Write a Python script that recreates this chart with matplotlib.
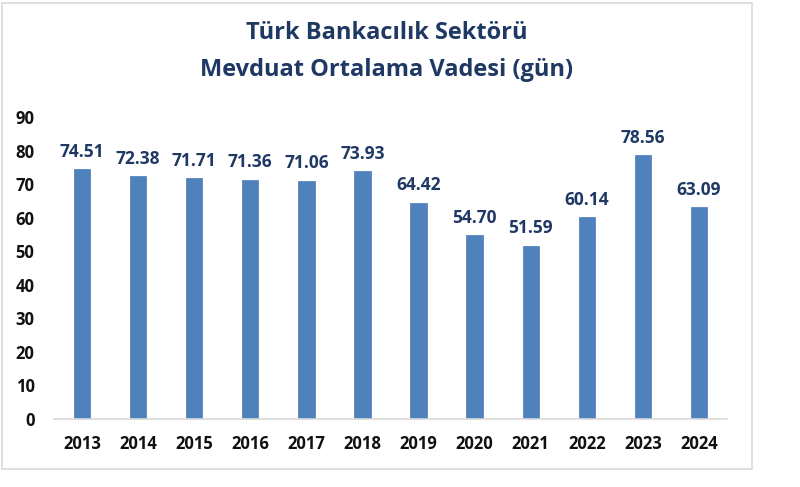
import matplotlib.pyplot as plt
from matplotlib.patches import Rectangle

years = ['2013', '2014', '2015', '2016', '2017', '2018',
         '2019', '2020', '2021', '2022', '2023', '2024']
values = [74.51, 72.38, 71.71, 71.36, 71.06, 73.93,
          64.42, 54.70, 51.59, 60.14, 78.56, 63.09]
yticks = [0, 10, 20, 30, 40, 50, 60, 70, 80, 90]

BAR = '#4F81BD'
NAVY = '#1F3864'

plt.rcParams['font.family'] = ['Open Sans', 'DejaVu Sans']

fig = plt.figure(figsize=(8, 4.87), dpi=100)
# chart frame
fig.patches.append(Rectangle((2 / 800, 1 - 469 / 487), 750 / 800, 466 / 487,
                             transform=fig.transFigure, fill=False,
                             edgecolor='#D9D9D9', linewidth=1.2))

ax = fig.add_axes([54 / 800, 1 - 418.7 / 487, 673 / 800, 301.6 / 487])
x = range(len(years))
bars = ax.bar(x, values, width=0.29, color=BAR, edgecolor='#4A7AB5', linewidth=0.5)

for b, v in zip(bars, values):
    ax.annotate(f'{v:.2f}', (b.get_x() + b.get_width() / 2, v),
                xytext=(0, 6), textcoords='offset points',
                ha='center', va='bottom', fontsize=12.5, fontweight='bold', color=NAVY)

ax.set_xlim(-0.5, len(years) - 0.5)
ax.set_ylim(0, 90)
ax.set_yticks(yticks)
ax.set_xticks(list(x))
ax.set_xticklabels(years)
ax.tick_params(axis='both', length=0, labelsize=12, labelcolor='#111111')
ax.tick_params(axis='x', pad=12)
ax.tick_params(axis='y', pad=14)
for lab in ax.get_xticklabels() + ax.get_yticklabels():
    lab.set_fontweight('bold')
for s in ['top', 'right', 'left']:
    ax.spines[s].set_visible(False)
ax.spines['bottom'].set_color('#D9D9D9')
ax.spines['bottom'].set_linewidth(1.2)

fig.text(387 / 800, 1 - 33 / 487, 'Türk Bankacılık Sektörü', ha='center', va='center',
         fontsize=17, fontweight='bold', color=NAVY)
fig.text(387 / 800, 1 - 70 / 487, 'Mevduat Ortalama Vadesi (gün)', ha='center', va='center',
         fontsize=17, fontweight='bold', color=NAVY)

fig.savefig('out.png', dpi=100)
